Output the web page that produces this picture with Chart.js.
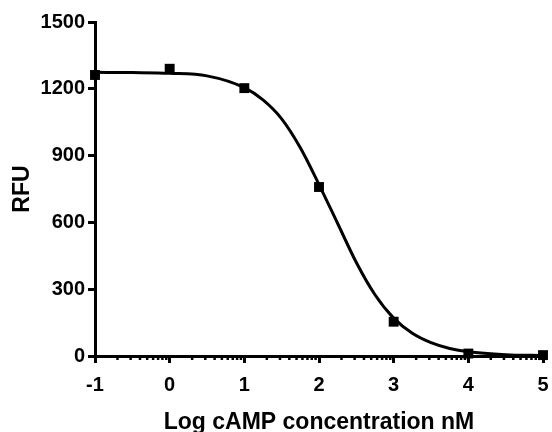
<!DOCTYPE html>
<html lang="en">
<head>
    <meta charset="UTF-8">
    <title>RFU vs Log cAMP</title>
    <script src="https://cdn.jsdelivr.net/npm/chart.js"></script>
    <style>
        html, body { margin: 0; padding: 0; background: #fff; }
        #box { width: 552px; height: 432px; }
    </style>
</head>
<body>
<div id="box"><canvas id="grafico"></canvas></div>
<script>
    // measured points
    const logDose = [-1, 0, 1, 2, 3, 4, 5];
    const rfu = [1262, 1290, 1203, 759, 154, 11, 4];

    // fitted curve
    const fitLog = [-1, -0.5, 0, 0.5, 1, 1.25, 1.5, 1.75, 2, 2.25, 2.5, 2.75, 3, 3.25, 3.5, 3.75, 4, 4.5, 5];
    const fitRfu = [1274, 1273, 1270, 1258, 1205, 1150, 1065, 935, 770, 595, 420, 275, 170, 102, 60, 34, 19, 6, 2];

    const yTicks = [0, 300, 600, 900, 1200, 1500];
    const xTicks = [-1, 0, 1, 2, 3, 4, 5];

    const font = "'Liberation Sans', Arial, sans-serif";

    // short log-decade ticks along the x axis
    const minorTicks = {
        id: 'minorTicks',
        afterDraw(chart) {
            const ctx = chart.ctx;
            const xs = chart.scales.x;
            const y0 = chart.chartArea.bottom;
            ctx.save();
            ctx.strokeStyle = '#000';
            ctx.lineWidth = 2.5;
            for (let i = 0; i < xTicks.length - 1; i++) {
                for (let k = 2; k <= 9; k++) {
                    let px = xs.getPixelForValue(xTicks[i] + Math.log10(k));
                    ctx.beginPath();
                    ctx.moveTo(px, y0);
                    ctx.lineTo(px, y0 + 4);
                    ctx.stroke();
                }
            }
            ctx.restore();
        }
    };

    new Chart(document.getElementById('grafico'), {
        type: 'scatter',
        data: {
            datasets: [
                {
                    type: 'line',
                    label: 'fit',
                    data: fitLog.map((x, i) => ({x: x, y: fitRfu[i]})),
                    borderColor: '#000',
                    borderWidth: 3,
                    pointRadius: 0,
                    cubicInterpolationMode: 'monotone',
                    fill: false,
                    clip: false
                },
                {
                    label: 'RFU',
                    data: logDose.map((x, i) => ({x: x, y: rfu[i]})),
                    backgroundColor: '#000',
                    borderColor: '#000',
                    borderWidth: 0,
                    pointStyle: 'rect',
                    pointRadius: 7,
                    clip: false
                }
            ]
        },
        options: {
            responsive: true,
            maintainAspectRatio: false,
            animation: false,
            layout: { padding: { left: 0, right: 9, top: 22, bottom: 0 } },
            plugins: {
                legend: { display: false },
                tooltip: { enabled: false }
            },
            scales: {
                x: {
                    type: 'linear',
                    min: -1,
                    max: 5,
                    afterBuildTicks: (s) => { s.ticks = xTicks.map(v => ({value: v})); },
                    afterFit: (s) => { s.height = 76; s.paddingLeft = 0; s.paddingRight = 0; },
                    grid: { drawOnChartArea: false, drawTicks: true, tickLength: 7, lineWidth: 3, color: '#000' },
                    border: { display: true, width: 3, color: '#000' },
                    ticks: {
                        color: '#000', padding: 10,
                        font: { family: font, size: 20, weight: 'bold' },
                        callback: (v) => String(v)
                    },
                    title: {
                        display: true,
                        text: 'Log cAMP concentration nM',
                        color: '#000',
                        padding: { top: 0, bottom: -4 },
                        font: { family: font, size: 23, weight: 'bold' }
                    }
                },
                y: {
                    min: 0,
                    max: 1500,
                    afterBuildTicks: (s) => { s.ticks = yTicks.map(v => ({value: v})); },
                    afterFit: (s) => { s.width = 95; s.paddingTop = 0; s.paddingBottom = 0; },
                    grid: { drawOnChartArea: false, drawTicks: true, tickLength: 7, lineWidth: 3, color: '#000' },
                    border: { display: true, width: 3, color: '#000' },
                    ticks: {
                        color: '#000', padding: 3,
                        font: { family: font, size: 20, weight: 'bold' },
                        callback: (v) => String(v)
                    },
                    title: {
                        display: true,
                        text: 'RFU',
                        color: '#000',
                        padding: { top: 9, bottom: 0 },
                        font: { family: font, size: 23, weight: 'bold' }
                    }
                }
            }
        },
        plugins: [minorTicks]
    });
</script>
</body>
</html>
